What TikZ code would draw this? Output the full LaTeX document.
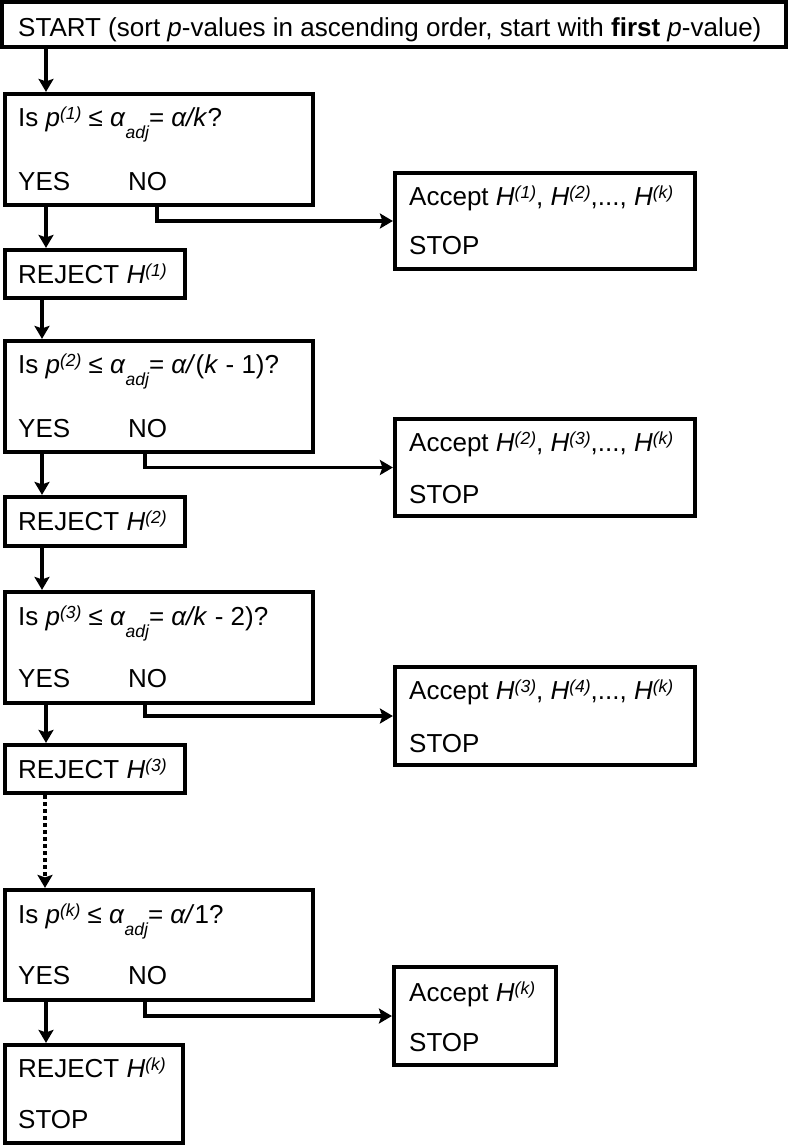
\documentclass[tikz,border=0pt]{standalone}
\usepackage{fontspec}
\setmainfont{Liberation Sans}
\usetikzlibrary{arrows.meta}
\newcommand{\hsup}[1]{\raisebox{7pt}{\fontsize{17.5}{17.5}\selectfont\itshape #1}}
\newcommand{\hsub}[1]{\raisebox{-12.5pt}{\fontsize{17.5}{17.5}\selectfont\itshape #1}}
\tikzset{
  box/.style={draw=black, line width=4.2pt, rectangle, inner sep=0pt, fill=white},
  txt/.style={anchor=base west, inner sep=0pt, font=\fontsize{26}{30}\selectfont},
  arr/.style={line width=3.8pt, -{Stealth[length=13pt,width=15pt,inset=2.5pt]}},
  dotarr/.style={line width=3.8pt, dash pattern=on 4pt off 3pt, -{Stealth[length=13pt,width=15pt,inset=2.5pt]}},
}
\begin{document}
\begin{tikzpicture}[x=1pt,y=-1pt]
\useasboundingbox (0,0) rectangle (788,1146);
% boxes
\node[box, minimum width=784pt, minimum height=45pt] (start) at (394,24.5) {};
\node[box, minimum width=308pt, minimum height=111pt] (q1) at (159,149.5) {};
\node[box, minimum width=180pt, minimum height=48pt] (r1) at (95,274) {};
\node[box, minimum width=300pt, minimum height=96pt] (a1) at (545,221) {};
\node[box, minimum width=308pt, minimum height=111pt] (q2) at (159,396.5) {};
\node[box, minimum width=180pt, minimum height=49pt] (r2) at (95,521.5) {};
\node[box, minimum width=300pt, minimum height=97pt] (a2) at (545,467.5) {};
\node[box, minimum width=308pt, minimum height=111pt] (q3) at (159,647.5) {};
\node[box, minimum width=180pt, minimum height=48pt] (r3) at (95,769) {};
\node[box, minimum width=300pt, minimum height=98pt] (a3) at (545,716) {};
\node[box, minimum width=308pt, minimum height=110pt] (q4) at (159,945) {};
\node[box, minimum width=178pt, minimum height=98pt] (r4) at (94,1094) {};
\node[box, minimum width=162pt, minimum height=98pt] (a4) at (475,1016) {};
% texts
\node[txt] (tstart) at (18,36) {START (sort \textit{p}-values in ascending order, start with \textbf{first} \textit{p}-value)};
\node[txt] (tq1) at (18,126) {Is \textit{p}\hsup{(1)} ≤ \textit{α}\hsub{adj}= \textit{α/k}?};
\node[txt] (y1) at (18,190) {YES};
\node[txt] (n1) at (128,190) {NO};
\node[txt] (tr1) at (18,283) {REJECT \textit{H}\hsup{(1)}};
\node[txt] (ta1) at (409,205) {Accept \textit{H}\hsup{(1)}, \textit{H}\hsup{(2)},..., \textit{H}\hsup{(k)}};
\node[txt] (sa1) at (409,254) {STOP};
\node[txt] (tq2) at (18,373) {Is \textit{p}\hsup{(2)} ≤ \textit{α}\hsub{adj}= \textit{α/}(\textit{k} - 1)?};
\node[txt] (y2) at (18,437) {YES};
\node[txt] (n2) at (128,437) {NO};
\node[txt] (tr2) at (18,530) {REJECT \textit{H}\hsup{(2)}};
\node[txt] (ta2) at (409,451) {Accept \textit{H}\hsup{(2)}, \textit{H}\hsup{(3)},..., \textit{H}\hsup{(k)}};
\node[txt] (sa2) at (409,503) {STOP};
\node[txt] (tq3) at (18,625) {Is \textit{p}\hsup{(3)} ≤ \textit{α}\hsub{adj}= \textit{α/k} - 2)?};
\node[txt] (y3) at (18,687) {YES};
\node[txt] (n3) at (128,687) {NO};
\node[txt] (tr3) at (18,778) {REJECT \textit{H}\hsup{(3)}};
\node[txt] (ta3) at (409,699) {Accept \textit{H}\hsup{(3)}, \textit{H}\hsup{(4)},..., \textit{H}\hsup{(k)}};
\node[txt] (sa3) at (409,752) {STOP};
\node[txt] (tq4) at (18,923) {Is \textit{p}\hsup{(k)} ≤ \textit{α}\hsub{adj}= \textit{α/}1?};
\node[txt] (y4) at (18,984) {YES};
\node[txt] (n4) at (128,984) {NO};
\node[txt] (tr4) at (18,1077) {REJECT \textit{H}\hsup{(k)}};
\node[txt] (sr4) at (18,1128) {STOP};
\node[txt] (ta4) at (409,1001) {Accept \textit{H}\hsup{(k)}};
\node[txt] (sa4) at (409,1051) {STOP};
% x positions for connectors
\coordinate (xa) at (46,0);
\coordinate (xb) at (42,0);
\coordinate (xc) at (45,0);
\coordinate (xn1) at (157,0);
\coordinate (xn) at (145,0);
% connectors
\draw[arr] (start.south -| xa) -- (q1.north -| xa);
\draw[arr] (q1.south -| xa) -- (r1.north -| xa);
\draw[arr] (q1.south -| xn1) |- (a1.west);
\draw[arr] (r1.south -| xb) -- (q2.north -| xb);
\draw[arr] (q2.south -| xb) -- (r2.north -| xb);
\draw[arr] (q2.south -| xn) |- (a2.west);
\draw[arr] (r2.south -| xb) -- (q3.north -| xb);
\draw[arr] (q3.south -| xa) -- (r3.north -| xa);
\draw[arr] (q3.south -| xn) |- (a3.west);
\draw[dotarr] (r3.south -| xc) -- (q4.north -| xc);
\draw[arr] (q4.south -| xa) -- (r4.north -| xa);
\draw[arr] (q4.south -| xn) |- (a4.west);
\end{tikzpicture}
\end{document}
